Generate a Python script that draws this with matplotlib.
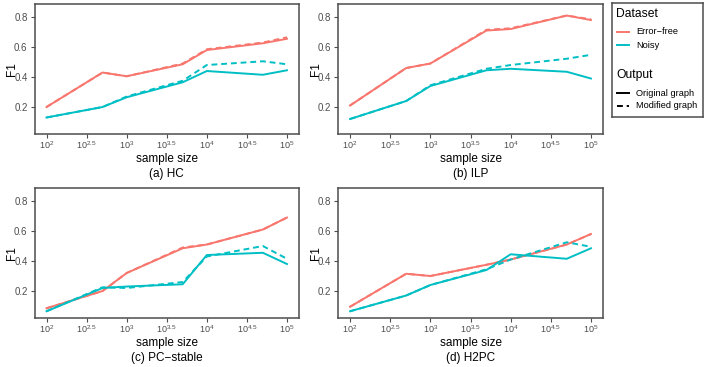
import numpy as np
import matplotlib
matplotlib.use("Agg")
import matplotlib.pyplot as plt

plt.rcParams["font.family"] = ["Liberation Sans", "DejaVu Sans"]
plt.rcParams["mathtext.fontset"] = "custom"
plt.rcParams["mathtext.rm"] = "Liberation Sans"
plt.rcParams["mathtext.it"] = "Liberation Sans:italic"

# sample sizes
sample_size = [100, 500, 1000, 5000, 10000, 50000, 100000]

# F1 values, per algorithm: error-free / noisy, original / modified graph
hc_ef_orig = [0.20, 0.43, 0.405, 0.485, 0.58, 0.625, 0.655]
hc_ef_mod = [0.20, 0.43, 0.405, 0.49, 0.585, 0.63, 0.665]
hc_noisy_orig = [0.13, 0.20, 0.265, 0.365, 0.44, 0.415, 0.445]
hc_noisy_mod = [0.13, 0.20, 0.27, 0.375, 0.48, 0.505, 0.485]

ilp_ef_orig = [0.21, 0.46, 0.49, 0.71, 0.72, 0.81, 0.78]
ilp_ef_mod = [0.21, 0.46, 0.49, 0.715, 0.725, 0.81, 0.785]
ilp_noisy_orig = [0.12, 0.24, 0.34, 0.445, 0.455, 0.435, 0.39]
ilp_noisy_mod = [0.12, 0.24, 0.345, 0.455, 0.48, 0.522, 0.548]

pc_ef_orig = [0.085, 0.20, 0.32, 0.485, 0.51, 0.61, 0.69]
pc_ef_mod = [0.085, 0.20, 0.32, 0.49, 0.51, 0.61, 0.69]
pc_noisy_orig = [0.065, 0.22, 0.23, 0.245, 0.44, 0.455, 0.38]
pc_noisy_mod = [0.065, 0.225, 0.22, 0.26, 0.43, 0.50, 0.415]

h2pc_ef_orig = [0.095, 0.315, 0.30, 0.375, 0.41, 0.51, 0.58]
h2pc_ef_mod = [0.095, 0.315, 0.30, 0.375, 0.41, 0.51, 0.58]
h2pc_noisy_orig = [0.065, 0.17, 0.24, 0.34, 0.445, 0.415, 0.485]
h2pc_noisy_mod = [0.065, 0.17, 0.24, 0.345, 0.41, 0.525, 0.495]

captions = ["(a) HC", "(b) ILP", "(c) PC\u2212stable", "(d) H2PC"]
panels = [
    (hc_ef_orig, hc_ef_mod, hc_noisy_orig, hc_noisy_mod),
    (ilp_ef_orig, ilp_ef_mod, ilp_noisy_orig, ilp_noisy_mod),
    (pc_ef_orig, pc_ef_mod, pc_noisy_orig, pc_noisy_mod),
    (h2pc_ef_orig, h2pc_ef_mod, h2pc_noisy_orig, h2pc_noisy_mod),
]

xtick_exp = [2, 2.5, 3, 3.5, 4, 4.5, 5]
ytick_vals = [0.2, 0.4, 0.6, 0.8]

red = "#F8766D"
cyan = "#00BFC4"
frame_col = "#4D4D4D"
tick_col = "#4D4D4D"

W, H = 706, 367
fig = plt.figure(figsize=(W / 100, H / 100), dpi=100)

# panel boxes in pixels: left, top, right, bottom
boxes = [(34.5, 4, 299, 134), (338, 4, 603, 134),
         (34.5, 188, 299, 318), (338, 188, 603, 318)]

for (l, t, r, b), data, cap in zip(boxes, panels, captions):
    ax = fig.add_axes([l / W, 1 - b / H, (r - l) / W, (b - t) / H])
    ef_o, ef_m, no_o, no_m = data
    ax.plot(sample_size, ef_m, color=red, lw=1.4, ls=(0, (3, 2)))
    ax.plot(sample_size, ef_o, color=red, lw=1.4)
    ax.plot(sample_size, no_m, color=cyan, lw=1.4, ls=(0, (3, 2)))
    ax.plot(sample_size, no_o, color=cyan, lw=1.4)
    ax.set_xscale("log")
    ax.set_xlim(10 ** 1.85, 10 ** 5.15)
    ax.set_ylim(0.02, 0.887)
    ax.set_xticks([10 ** e for e in xtick_exp])
    ax.set_xticklabels(["$10^{%g}$" % e for e in xtick_exp])
    ax.xaxis.set_minor_locator(matplotlib.ticker.NullLocator())
    ax.set_yticks(ytick_vals)
    ax.set_yticklabels(["%.1f" % v for v in ytick_vals])
    ax.tick_params(colors=tick_col, labelsize=7, length=3, width=0.8, pad=2)
    ax.tick_params(axis="x", labelsize=6.5, pad=1)
    for s in ax.spines.values():
        s.set_color(frame_col)
        s.set_linewidth(1.1)
    cx = (l + r) / 2 / W
    fig.text(cx, 1 - (b + 25) / H, "sample size", fontsize=8.5,
             ha="center", va="center")
    fig.text(cx, 1 - (b + 39.5) / H, cap, fontsize=8.5, ha="center", va="center")
    fig.text((l - 22) / W, 1 - (t + b) / 2 / H, "F1", fontsize=8.5,
             rotation=90, ha="center", va="center")

# legend box drawn as its own axes
lx0, ly0, lx1, ly1 = 612, 3, 703, 117
lax = fig.add_axes([lx0 / W, 1 - ly1 / H, (lx1 - lx0) / W, (ly1 - ly0) / H])
lax.set_xlim(0, lx1 - lx0)
lax.set_ylim(ly1 - ly0, 0)
lax.set_xticks([])
lax.set_yticks([])
for s in lax.spines.values():
    s.set_color(frame_col)
    s.set_linewidth(1.1)

lax.text(4, 11, "Dataset", fontsize=8.7, va="center")
for yy, col, lab in [(29, red, "Error\u2212free"), (42, cyan, "Noisy")]:
    lax.plot([5, 17], [yy, yy], color=col, lw=1.4)
    lax.text(24, yy, lab, fontsize=6.7, va="center")
lax.text(4, 72, "Output", fontsize=8.7, va="center")
for yy, ls, lab in [(90, "-", "Original graph"), (103, (0, (3, 2)), "Modified graph")]:
    lax.plot([5, 17], [yy, yy], color="black", lw=1.4, ls=ls)
    lax.text(24, yy, lab, fontsize=6.7, va="center")

fig.savefig("out.png", dpi=100)
